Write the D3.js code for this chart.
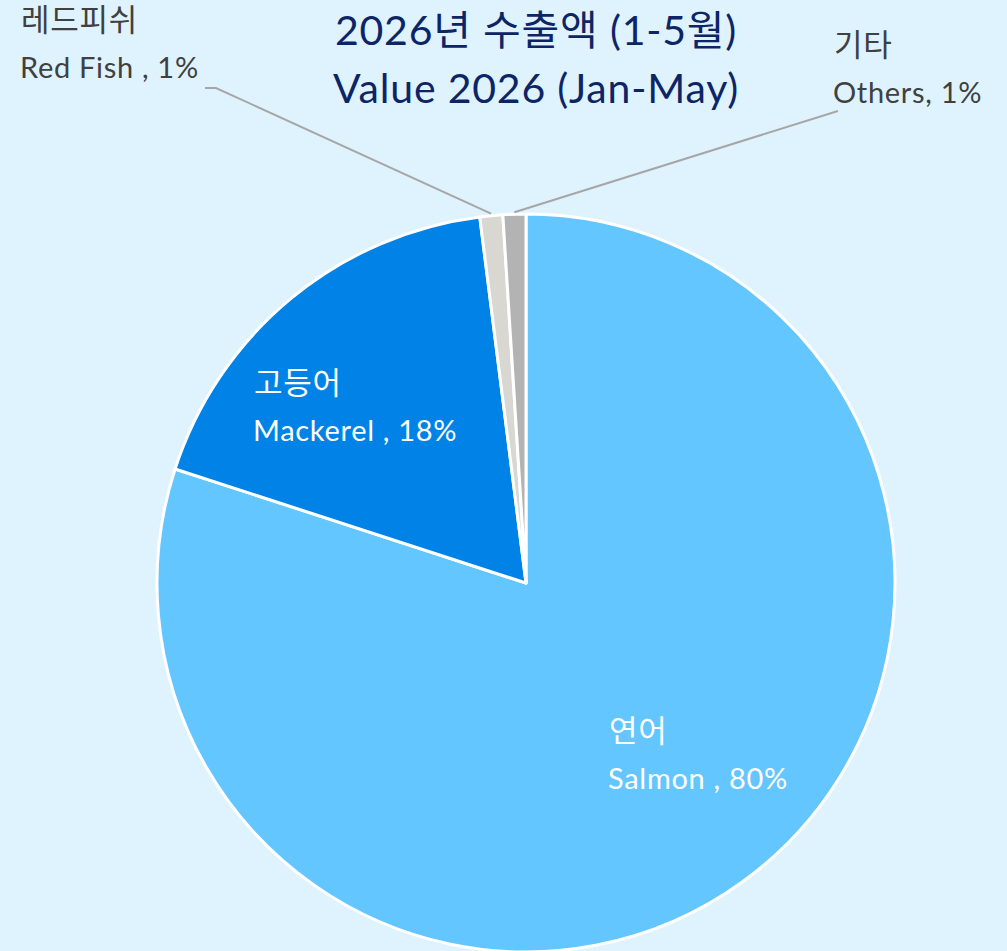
<!DOCTYPE html>
<html>
<head>
<meta charset="utf-8">
<script src="https://cdn.jsdelivr.net/npm/d3@7"></script>
<style>
  html, body { margin: 0; padding: 0; background: #dff3ff; }
  svg { display: block; font-family: Lato, "Noto Sans CJK KR", sans-serif; }
</style>
</head>
<body>
<div id="chart"></div>
<script>
var categories = ["연어", "고등어", "레드피쉬", "기타"],
    namesEn = ["Salmon ,", "Mackerel ,", "Red Fish ,", "Others,"],
    values = [80, 18, 1, 1],
    colors = ["#64c6ff", "#0082e6", "#d9d7d2", "#b3b3b3"];

var width = 1007,
    height = 951,
    cx = 526,
    cy = 583,
    radius = 369;

var svg = d3.select("#chart").append("svg")
    .attr("width", width)
    .attr("height", height);

svg.append("rect")
    .attr("width", width)
    .attr("height", height)
    .attr("fill", "#dff3ff");

var data = categories.map(function(c, i) {
    return {ko: c, en: namesEn[i], value: values[i], color: colors[i]};
});

var pie = d3.pie().sort(null).value(function(d) { return d.value; });
var arc = d3.arc().innerRadius(0).outerRadius(radius);
var arcs = pie(data);

var g = svg.append("g").attr("transform", "translate(" + cx + "," + cy + ")");

g.selectAll("path")
    .data(arcs)
    .enter().append("path")
    .attr("d", arc)
    .attr("fill", function(d) { return d.data.color; })
    .attr("stroke", "white")
    .attr("stroke-width", 3)
    .attr("stroke-linejoin", "round");

// title
var title = svg.append("text")
    .attr("text-anchor", "middle")
    .attr("fill", "#0d2566")
    .attr("font-size", 41)
    .attr("letter-spacing", 0.8);
title.append("tspan").attr("x", 536).attr("y", 45).text("2026년 수출액 (1-5월)");
title.append("tspan").attr("x", 536).attr("y", 103).text("Value 2026 (Jan-May)");

// label positions (layout)
var labelPos = [
    {x: 608, y: 742, inside: true},
    {x: 253, y: 394, inside: true},
    {x: 20, y: 31, inside: false, line: [[205, 88], [216, 88]]},
    {x: 833, y: 56, inside: false, line: [[838, 111]]}
];

arcs.forEach(function(d, i) {
    var p = labelPos[i];
    var fill = p.inside ? "white" : "#404040";
    var t = svg.append("text")
        .attr("fill", fill)
        .attr("font-size", 29)
        .attr("letter-spacing", 0.7);
    t.append("tspan").attr("x", p.x + 1).attr("y", p.y)
        .attr("font-size", 31)
        .text(d.data.ko);
    t.append("tspan").attr("x", p.x).attr("y", p.y + 47)
        .text(d.data.en + " " + Math.round(d.data.value) + "%");

    if (!p.inside) {
        var a = (d.startAngle + d.endAngle) / 2,
            r = radius + 2;
        var end = [cx + Math.sin(a) * r, cy - Math.cos(a) * r];
        var pts = p.line.concat([end]);
        svg.append("path")
            .attr("d", d3.line()(pts))
            .attr("fill", "none")
            .attr("stroke", "#a6a6a6")
            .attr("stroke-width", 2);
    }
});
</script>
</body>
</html>
